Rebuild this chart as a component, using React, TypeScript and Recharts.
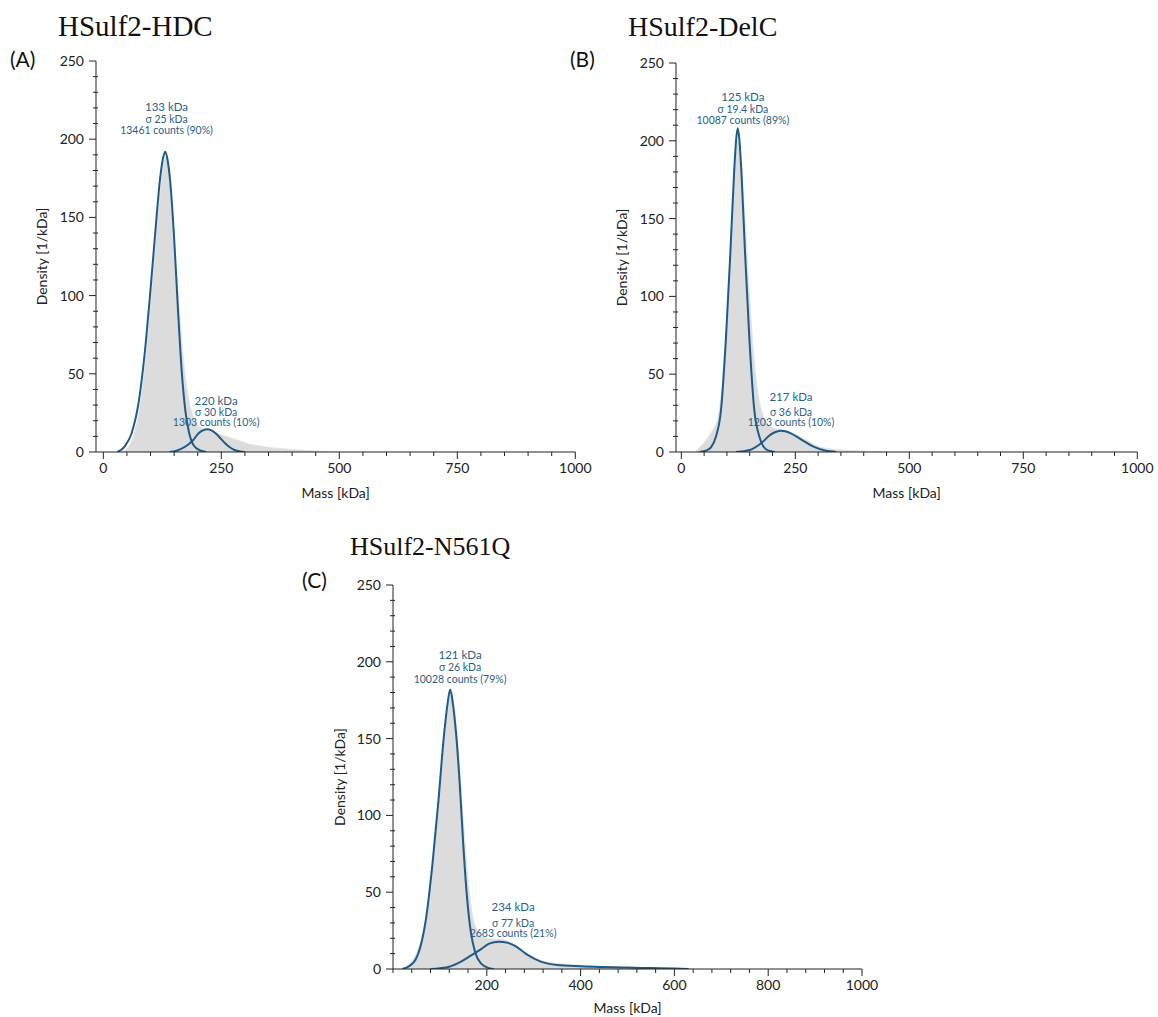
import React from 'react';
import { ComposedChart, Area, Line, XAxis, YAxis, ReferenceDot } from 'recharts';

const FONT = 'Lato, "Open Sans", "DejaVu Sans", sans-serif';
const SERIF = '"Liberation Serif", "DejaVu Serif", serif';
const BLUE = '#1f5b89';
const ANN = '#2a5f88';
const GRAY = '#dcdcdc';
const AXIS = '#222222';

type P = [number, number];

// ---------- Panel A : HSulf2-HDC ----------
const histA: P[] = [[40,0],[50,2],[60,7],[70,17],[80,34],[90,60],[100,94],[110,130],[120,164],[128,184],[134,189],[140,178],[150,136],[160,95],[170,58],[180,35],[190,23],[200,17],[210,15],[220,14],[235,12.5],[250,11],[265,9.5],[280,8],[295,6.5],[310,5],[330,4],[350,3],[375,2.2],[400,1.6],[430,1],[460,0.5],[480,0]];
const gaussA1: P[] = [[30,0],[45,3.5],[60,12],[75,32],[90,70],[100,104],[110,140],[120,174],[126,187],[131,192],[136,187],[142,172],[150,137],[158,92],[166,52],[174,26],[182,12],[192,4],[205,1],[218,0]];
const gaussA2: P[] = [[140,0],[155,0.8],[167,2.3],[180,4.8],[190,7.5],[202,12],[212,14],[220,14.5],[228,14],[238,12],[248,8.8],[258,5.6],[268,3],[278,1.3],[290,0.3],[300,0]];
const annA1 = ['133 kDa', 'σ 25 kDa', '13461 counts (90%)'];
const annA2 = ['220 kDa', 'σ 30 kDa', '1303 counts (10%)'];

// ---------- Panel B : HSulf2-DelC ----------
const histB: P[] = [[30,0],[40,3],[50,6],[60,10],[70,15],[80,22],[90,44],[100,88],[110,145],[118,188],[124,200],[130,190],[140,148],[150,98],[160,58],[170,34],[180,23],[190,18],[200,15.5],[215,14.5],[230,13.5],[245,12],[260,10],[275,7.5],[290,5],[305,3.2],[320,2.2],[350,1.3],[390,0.7],[440,0]];
const gaussB1: P[] = [[40,0],[55,1],[65,3],[76,10],[87,27],[98,74],[107.5,128],[116,181],[120,200],[123.7,208],[127.5,200],[131.6,181],[139.7,128],[149,74],[160,27],[171,10],[180,3.5],[190,1],[205,0]];
const gaussB2: P[] = [[120,0],[150,1.3],[175,5.6],[195,11],[208,13],[218,13.7],[228,13.3],[240,12],[265,7.7],[290,3.4],[315,0.9],[340,0]];
const annB1 = ['125 kDa', 'σ 19.4 kDa', '10087 counts (89%)'];
const annB2 = ['217 kDa', 'σ 36 kDa', '1203 counts (10%)'];

// ---------- Panel C : HSulf2-N561Q ----------
const histC: P[] = [[22,0],[30,2],[40,5],[55,14],[70,33],[85,70],[100,118],[110,152],[118,174],[124,180],[130,172],[140,138],[150,96],[160,58],[170,34],[180,25],[190,21],[200,20],[215,19.5],[235,19],[255,17],[275,12],[295,8],[320,5.2],[350,3.6],[400,2.4],[450,1.6],[500,1.1],[550,0.7],[600,0.4],[640,0]];
const gaussC1: P[] = [[20,0],[35,2],[48,6],[58,14],[70,32],[84,68],[97,110],[108,150],[116,172],[122,182],[128,172],[134,155],[142,122],[150,80],[158,46],[166,24],[175,11],[188,3.5],[205,0.5],[215,0]];
const gaussC2: P[] = [[80,0],[100,0.5],[120,1.5],[145,4.8],[165,8.5],[187,12.8],[205,16.5],[226,17.8],[245,17],[262,14.8],[286,9.3],[315,4.8],[350,2.6],[400,1.8],[450,1.3],[500,0.9],[550,0.6],[600,0.3],[630,0]];
const annC1 = ['121 kDa', 'σ 26 kDa', '10028 counts (79%)'];
const annC2 = ['234 kDa', 'σ 77 kDa', '2683 counts (21%)'];

// ticks
const yTicks = [0,10,20,30,40,50,60,70,80,90,100,110,120,130,140,150,160,170,180,190,200,210,220,230,240,250];
const yLabelTicks = [0, 50, 100, 150, 200, 250];
const xTicksAB = [0,50,100,150,200,250,300,350,400,450,500,550,600,650,700,750,800,850,900,950,1000];
const xLabelTicksAB = [0, 250, 500, 750, 1000];
const xTicksC = [0,40,80,120,160,200,240,280,320,360,400,440,480,520,560,600,640,680,720,760,800,840,880,920,960,1000];
const xLabelTicksC = [200, 400, 600, 800, 1000];

const toPts = (a: P[]) => a.map(([x, y]) => ({ x, y }));

const makeXTick = (labels: number[], fs: number) => (props: any) => {
  const { x, y, payload } = props;
  const v = payload.value;
  const major = labels.includes(v);
  return (
    <g>
      <line x1={x} x2={x} y1={y} y2={y + (major ? 7 : 4)} stroke={AXIS} strokeWidth={1} />
      {major && (
        <text x={x} y={y + 21} textAnchor="middle" fontFamily={FONT} fontSize={fs} fill="#222">{v}</text>
      )}
    </g>
  );
};

const makeYTick = (fs: number) => (props: any) => {
  const { x, y, payload } = props;
  const v = payload.value;
  const major = yLabelTicks.includes(v);
  return (
    <g>
      <line x1={major ? x - 7 : x - 3} x2={x + (major ? 0 : 2)} y1={y} y2={y} stroke={AXIS} strokeWidth={1} />
      {major && (
        <text x={x - 12} y={y + 5} textAnchor="end" fontFamily={FONT} fontSize={fs} fill="#222">{v}</text>
      )}
    </g>
  );
};

const annShape = (lines: string[], offs: number[]) => (p: any) => (
  <g>
    {lines.map((l, i) => (
      <text key={i} x={p.cx} y={p.cy + offs[i]} textAnchor="middle" fontFamily={FONT}
        fontSize={i === 0 ? 11.5 : 10.5} fill={ANN}>{l}</text>
    ))}
  </g>
);

type PanelProps = {
  left: number; top: number; plotW: number; plotH: number;
  xMin: number; xTicks: number[]; xLabels: number[]; fs: number;
  hist: P[]; g1: P[]; g2: P[];
  ann1: string[]; ann1At: P; ann1Off: number[];
  ann2: string[]; ann2At: P; ann2Off: number[];
  xTitleOff: number;
};

const YW = 72;
const MT = 8;
const MR = 30;
const XH = 52;

function Panel(pp: PanelProps) {
  const W = YW + pp.plotW + MR;
  const H = MT + pp.plotH + XH;
  return (
    <div style={{ position: 'absolute', left: pp.left - YW, top: pp.top - MT, width: W, height: H }}>
      <ComposedChart width={W} height={H} margin={{ top: MT, right: MR, bottom: 0, left: 0 }}>
        <XAxis type="number" dataKey="x" domain={[pp.xMin, 1000]} allowDataOverflow ticks={pp.xTicks}
          interval={0} tickSize={0} tickMargin={0} tickLine={false} height={XH}
          axisLine={{ stroke: AXIS, strokeWidth: 1 }} tick={makeXTick(pp.xLabels, pp.fs)}
          label={{
            content: (lp: any) => {
              const vb = lp.viewBox || {};
              return (
                <text x={vb.x + vb.width / 2} y={vb.y + pp.xTitleOff} textAnchor="middle"
                  fontFamily={FONT} fontSize={pp.fs} fill="#222">Mass [kDa]</text>
              );
            },
          }} />
        <YAxis type="number" domain={[0, 250]} allowDataOverflow ticks={yTicks} interval={0}
          tickSize={0} tickMargin={0} tickLine={false} width={YW}
          axisLine={{ stroke: AXIS, strokeWidth: 1 }} tick={makeYTick(pp.fs)}
          label={{
            content: (lp: any) => {
              const vb = lp.viewBox || {};
              const cx = vb.x + vb.width - 54;
              const cy = vb.y + vb.height / 2;
              return (
                <text x={cx} y={cy} textAnchor="middle" transform={`rotate(-90 ${cx} ${cy})`}
                  dominantBaseline="central" fontFamily={FONT} fontSize={pp.fs} fill="#222">Density [1/kDa]</text>
              );
            },
          }} />
        <Area data={toPts(pp.hist)} dataKey="y" type="monotone" fill={GRAY} fillOpacity={1}
          stroke="#e4e4e4" strokeWidth={1} isAnimationActive={false} dot={false} activeDot={false} />
        <Line data={toPts(pp.g1)} dataKey="y" type="monotone" stroke={BLUE} strokeWidth={2}
          dot={false} activeDot={false} isAnimationActive={false} />
        <Line data={toPts(pp.g2)} dataKey="y" type="monotone" stroke={BLUE} strokeWidth={2}
          dot={false} activeDot={false} isAnimationActive={false} />
        <ReferenceDot x={pp.ann1At[0]} y={pp.ann1At[1]} r={1} shape={annShape(pp.ann1, pp.ann1Off)} />
        <ReferenceDot x={pp.ann2At[0]} y={pp.ann2At[1]} r={1} shape={annShape(pp.ann2, pp.ann2Off)} />
      </ComposedChart>
    </div>
  );
}

export default function App() {
  return (
    <div style={{ position: 'absolute', left: 0, top: 0, width: 1158, height: 1017, background: '#fff' }}>
      <Panel left={96} top={61} plotW={479.3} plotH={391} xMin={-15.5} xTicks={xTicksAB} xLabels={xLabelTicksAB} fs={14}
        hist={histA} g1={gaussA1} g2={gaussA2}
        ann1={annA1} ann1At={[134, 218]} ann1Off={[0, 12, 23.4]}
        ann2={annA2} ann2At={[239, 30.2]} ann2Off={[0, 11.6, 21.6]} xTitleOff={46} />
      <Panel left={676} top={63} plotW={461.3} plotH={389} xMin={-11.7} xTicks={xTicksAB} xLabels={xLabelTicksAB} fs={14}
        hist={histB} g1={gaussB1} g2={gaussB2}
        ann1={annB1} ann1At={[135, 225.6]} ann1Off={[0, 12.5, 23]}
        ann2={annB2} ann2At={[240.5, 33]} ann2Off={[0, 15, 25.6]} xTitleOff={46} />
      <Panel left={393} top={585} plotW={469} plotH={384} xMin={0} xTicks={xTicksC} xLabels={xLabelTicksC} fs={14}
        hist={histC} g1={gaussC1} g2={gaussC2}
        ann1={annC1} ann1At={[143, 201.8]} ann1Off={[0, 12, 24]}
        ann2={annC2} ann2At={[256, 38]} ann2Off={[0, 16, 26.6]} xTitleOff={44} />
      <svg width={1158} height={1017} style={{ position: 'absolute', left: 0, top: 0, pointerEvents: 'none' }}>
        <text x={58} y={36} fontFamily={SERIF} fontSize={29} fill="#111">HSulf2-HDC</text>
        <text x={628} y={36} fontFamily={SERIF} fontSize={28} fill="#111">HSulf2-DelC</text>
        <text x={350} y={555} fontFamily={SERIF} fontSize={26} fill="#111">HSulf2-N561Q</text>
        <text x={10} y={67} fontFamily={FONT} fontSize={21} fill="#111">(A)</text>
        <text x={570} y={67} fontFamily={FONT} fontSize={21} fill="#111">(B)</text>
        <text x={302} y={588} fontFamily={FONT} fontSize={21} fill="#111">(C)</text>
      </svg>
    </div>
  );
}
